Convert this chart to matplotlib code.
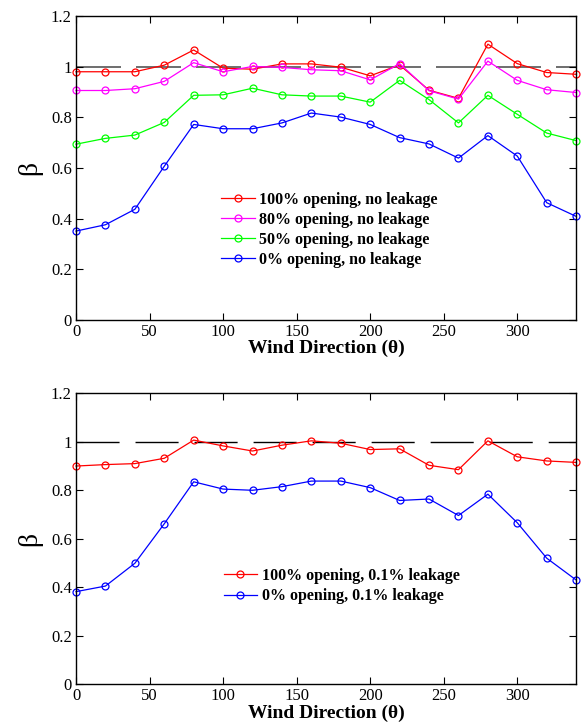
import numpy as np
import matplotlib.pyplot as plt

plt.rcParams['font.family'] = ['Liberation Serif', 'DejaVu Serif']
plt.rcParams['mathtext.fontset'] = 'stix'

# wind direction (deg)
theta = np.arange(0, 341, 20)

# top panel: no leakage
beta_100 = [0.980, 0.980, 0.980, 1.006, 1.066, 0.994, 0.990, 1.011, 1.011,
            0.998, 0.964, 1.007, 0.907, 0.875, 1.089, 1.012, 0.977, 0.970]
beta_80 = [0.906, 0.906, 0.913, 0.942, 1.016, 0.980, 1.001, 0.997, 0.988,
           0.984, 0.948, 1.012, 0.905, 0.872, 1.022, 0.946, 0.909, 0.898]
beta_50 = [0.694, 0.717, 0.730, 0.780, 0.887, 0.889, 0.915, 0.889, 0.884,
           0.884, 0.860, 0.946, 0.870, 0.778, 0.887, 0.812, 0.738, 0.708]
beta_0 = [0.351, 0.376, 0.437, 0.607, 0.772, 0.755, 0.755, 0.778, 0.817,
          0.801, 0.772, 0.720, 0.695, 0.639, 0.728, 0.647, 0.463, 0.409]

# bottom panel: 0.1% leakage
leak_100 = [0.899, 0.905, 0.909, 0.931, 1.006, 0.982, 0.961, 0.985, 1.003,
            0.993, 0.967, 0.970, 0.902, 0.884, 1.003, 0.937, 0.920, 0.914]
leak_0 = [0.381, 0.404, 0.498, 0.661, 0.834, 0.804, 0.799, 0.814, 0.837,
          0.837, 0.810, 0.757, 0.763, 0.695, 0.783, 0.665, 0.519, 0.429]

top_series = [(beta_100, 'red', '100% opening, no leakage'),
              (beta_80, 'magenta', '80% opening, no leakage'),
              (beta_50, '#00ff00', '50% opening, no leakage'),
              (beta_0, 'blue', '0% opening, no leakage')]
bot_series = [(leak_100, 'red', '100% opening, 0.1% leakage'),
              (leak_0, 'blue', '0% opening, 0.1% leakage')]


def setup(ax):
    ax.set_xlim(0, 340)
    ax.set_ylim(0, 1.2)
    ax.set_xticks([0, 50, 100, 150, 200, 250, 300])
    ax.set_yticks([0, 0.2, 0.4, 0.6, 0.8, 1.0, 1.2])
    ax.set_yticklabels(['0', '0.2', '0.4', '0.6', '0.8', '1', '1.2'])
    ax.tick_params(direction='in', top=True, right=True, labelsize=12,
                   length=5, width=0.8, pad=3)
    for s in ax.spines.values():
        s.set_linewidth(1.0)
    ax.set_xlabel('Wind Direction (θ)', fontsize=14, fontweight='bold',
                  labelpad=0)
    ax.set_ylabel('β', fontsize=20, labelpad=6)


fig = plt.figure(figsize=(5.87, 7.22), dpi=100)
ax1 = fig.add_axes([0.1295, 0.5568, 0.852, 0.421])
ax2 = fig.add_axes([0.1295, 0.0526, 0.852, 0.403])

ax1.plot([0, 340], [1, 1], color='#555555', lw=1.2, dashes=(27, 9), zorder=1)
for y, c, lab in top_series:
    ax1.plot(theta, y, color=c, lw=0.9, marker='o', mfc='none', mec=c,
             ms=5, mew=0.9, label=lab, clip_on=False)
setup(ax1)
ax1.legend(loc='upper left', bbox_to_anchor=(0.29, 0.422), frameon=False,
           prop={'weight': 'bold', 'size': 11.5}, handlelength=2.1,
           handletextpad=0.3, labelspacing=0.25, borderpad=0, borderaxespad=0)

ax2.plot([0, 340], [1, 1], color='black', lw=1.0, dashes=(31, 11.5), zorder=1)
for y, c, lab in bot_series:
    ax2.plot(theta, y, color=c, lw=0.9, marker='o', mfc='none', mec=c,
             ms=5, mew=0.9, label=lab, clip_on=False)
setup(ax2)
ax2.legend(loc='upper left', bbox_to_anchor=(0.295, 0.40), frameon=False,
           prop={'weight': 'bold', 'size': 11.5}, handlelength=2.1,
           handletextpad=0.3, labelspacing=0.3, borderpad=0, borderaxespad=0)

fig.savefig('out.png', dpi=100)
